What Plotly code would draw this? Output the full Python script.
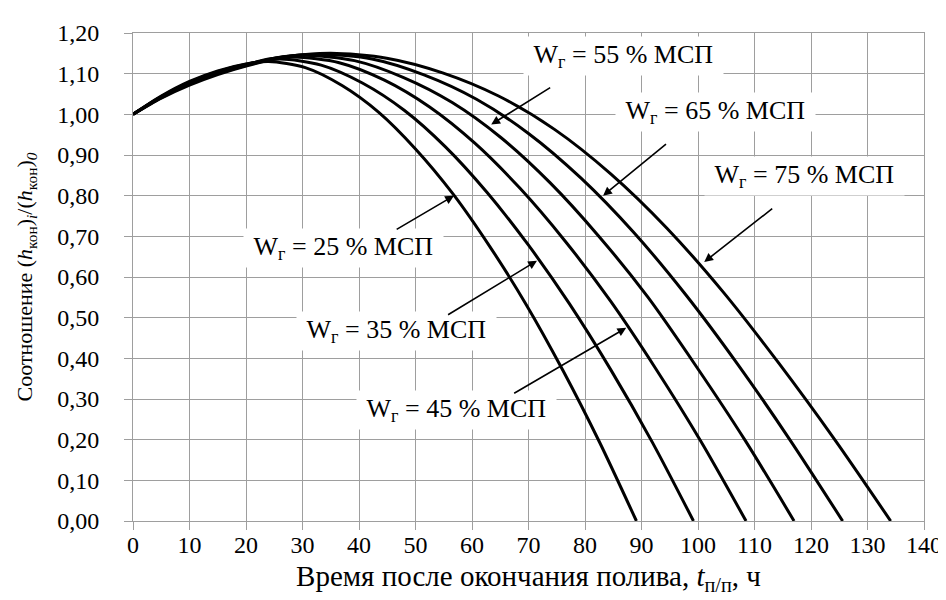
import plotly.graph_objects as go

# ---- data ----
t25 = [0, 5, 10, 15, 20, 24, 30.5, 37.0, 43.5, 50.0, 56.6, 63.1, 69.6, 76.1, 82.6, 89.1]
r25 = [1.000, 1.045, 1.081, 1.107, 1.124, 1.130, 1.115, 1.071, 1.005, 0.915, 0.805, 0.676, 0.532, 0.370, 0.193, 0.000]

t35 = [0, 5, 10, 15, 20, 26, 33.3, 40.6, 48.0, 55.3, 62.6, 69.9, 77.2, 84.6, 91.9, 99.2]
r35 = [1.000, 1.044, 1.079, 1.105, 1.123, 1.136, 1.121, 1.077, 1.010, 0.920, 0.809, 0.680, 0.535, 0.371, 0.194, 0.000]

t45 = [0, 5, 10, 15, 20, 24, 28.5, 36.5, 44.5, 52.5, 60.5, 68.5, 76.5, 84.5, 92.5, 100.5, 108.5]
r45 = [1.000, 1.043, 1.077, 1.103, 1.122, 1.136, 1.141, 1.127, 1.084, 1.018, 0.929, 0.818, 0.688, 0.541, 0.375, 0.196, 0.000]

t55 = [0, 5, 10, 15, 20, 25, 30.5, 39.2, 47.8, 56.5, 65.1, 73.8, 82.4, 91.1, 99.7, 108.4, 117.0]
r55 = [1.000, 1.042, 1.075, 1.101, 1.121, 1.138, 1.145, 1.132, 1.091, 1.029, 0.943, 0.832, 0.701, 0.551, 0.380, 0.197, 0.000]

t65 = [0, 5, 10, 15, 20, 26, 33, 42.3, 51.5, 60.8, 70.0, 79.3, 88.6, 97.8, 107.1, 116.3, 125.6]
r65 = [1.000, 1.041, 1.074, 1.100, 1.120, 1.140, 1.148, 1.136, 1.097, 1.037, 0.953, 0.843, 0.710, 0.557, 0.384, 0.199, 0.000]

t75 = [0, 5, 10, 15, 20, 27, 35, 44.9, 54.8, 64.7, 74.6, 84.6, 94.5, 104.4, 114.3, 124.2, 134.1]
r75 = [1.000, 1.040, 1.072, 1.098, 1.119, 1.141, 1.150, 1.138, 1.102, 1.045, 0.963, 0.853, 0.720, 0.564, 0.388, 0.200, 0.000]

series_names = ["25", "35", "45", "55", "65", "75"]

x_ticks = [0, 10, 20, 30, 40, 50, 60, 70, 80, 90, 100, 110, 120, 130, 140]
y_ticks = [0.0, 0.1, 0.2, 0.3, 0.4, 0.5, 0.6, 0.7, 0.8, 0.9, 1.0, 1.1, 1.2]

# label text centres (data coords) and arrows (head -> tail, data coords)
label_x = [37.3, 46.6, 57.3, 86.75, 103.1, 118.8]
label_y = [0.671, 0.468, 0.273, 1.144, 1.006, 0.849]
head_x = [56.8, 71.5, 87.3, 63.4, 83.2, 101.1]
head_y = [0.800, 0.640, 0.475, 0.975, 0.800, 0.637]
tail_x = [46.4, 55.5, 67.2, 74.1, 94.6, 113.4]
tail_y = [0.715, 0.505, 0.312, 1.068, 0.930, 0.771]

FONT = "Liberation Serif"
GRID = "#9e9e9e"

fig = go.Figure()
for name, t, r in zip(series_names,
                      [t25, t35, t45, t55, t65, t75],
                      [r25, r35, r45, r55, r65, r75]):
    fig.add_trace(go.Scatter(
        x=t, y=r, mode="lines", name=f"W = {name} % МСП",
        line=dict(color="black", width=3, shape="spline", smoothing=0.8),
        showlegend=False, hoverinfo="skip"))

annotations = []
for name, lx, ly in zip(series_names, label_x, label_y):
    annotations.append(dict(
        x=lx, y=ly, xref="x", yref="y", showarrow=False,
        text=f"\u00a0W<sub>г</sub> = {name} % МСП\u00a0",
        font=dict(family=FONT, size=26, color="black"),
        bgcolor="white", borderpad=3, xanchor="center", yanchor="middle"))
for hx, hy, tx, ty in zip(head_x, head_y, tail_x, tail_y):
    annotations.append(dict(
        x=hx, y=hy, ax=tx, ay=ty, xref="x", yref="y", axref="x", ayref="y",
        text="", showarrow=True, arrowhead=2, arrowsize=1.1, arrowwidth=1.6,
        arrowcolor="black", standoff=0, startstandoff=0))

fig.update_layout(
    width=946, height=600,
    margin=dict(l=125, r=23, t=21, b=87),
    paper_bgcolor="white", plot_bgcolor="white",
    separators=", ",
    font=dict(family=FONT, color="black"),
    annotations=annotations,
)
fig.update_xaxes(
    range=[0, 140], tickvals=x_ticks, showgrid=True, gridcolor=GRID, gridwidth=1,
    ticks="outside", ticklen=8, tickcolor=GRID, tickwidth=1,
    showline=True, linecolor=GRID, linewidth=1, mirror=True, zeroline=False,
    tickfont=dict(family=FONT, size=24, color="black"), ticklabelstandoff=-6,
    title=dict(text="Время после окончания полива, <i>t</i><sub>п/п</sub>, ч",
               font=dict(family=FONT, size=29, color="black"), standoff=8),
)
fig.update_yaxes(
    range=[0, 1.2], tickvals=y_ticks, tickformat=".2f",
    showgrid=True, gridcolor=GRID, gridwidth=1,
    ticks="outside", ticklen=8, tickcolor=GRID, tickwidth=1,
    showline=True, linecolor=GRID, linewidth=1, mirror=True, zeroline=False,
    tickfont=dict(family=FONT, size=24, color="black"), ticklabelstandoff=20,
    title=dict(text="Соотношение (<i>h</i><sub>кон</sub>)<sub><i>i</i></sub>/(<i>h</i><sub>кон</sub>)<sub><i>0</i></sub>",
               font=dict(family=FONT, size=22, color="black"), standoff=18),
)

fig.write_html("out.html")
